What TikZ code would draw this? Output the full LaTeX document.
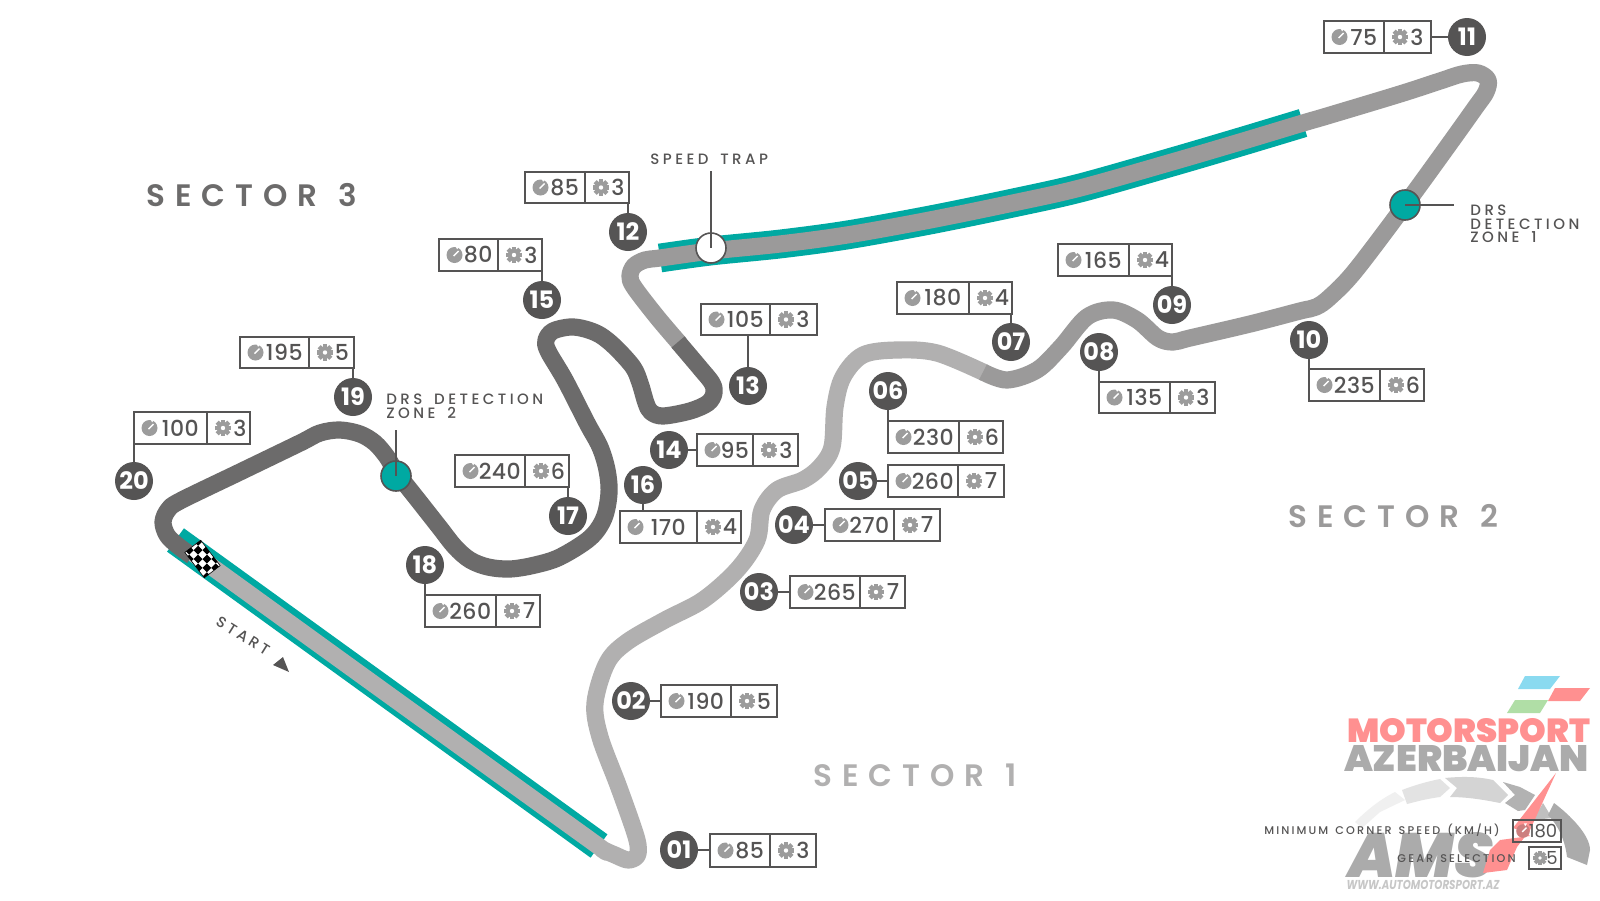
\documentclass[tikz,border=0pt]{standalone}
\usepackage{fontspec}
\usepackage{graphicx}
\setmainfont{Poppins}
\newfontfamily\numfont[LetterSpace=2]{Poppins Medium}
\newfontfamily\lblfont[LetterSpace=23,WordSpace=1.6]{Poppins Medium}
\newfontfamily\secfont[LetterSpace=32,WordSpace=1.2]{Poppins SemiBold}
\newfontfamily\legfont[LetterSpace=19,WordSpace=1.4]{Poppins Medium}
\newfontfamily\logofont{Poppins Black}
\definecolor{sone}{HTML}{B1B0B0}
\definecolor{stwo}{HTML}{9B9A9A}
\definecolor{sthree}{HTML}{6C6B6B}
\definecolor{teal1}{HTML}{00A9A2}
\definecolor{ink}{HTML}{555454}
\definecolor{icon}{HTML}{9C9C9C}
\definecolor{logored}{HTML}{FF9090}
\definecolor{logogrey}{HTML}{ABABAB}
\definecolor{flagblue}{HTML}{8ADAF0}
\definecolor{flaggreen}{HTML}{B0DEA6}
\tikzset{
  track/.style={line width=8.6pt,line cap=butt,line join=round},
  drs/.style={line width=14.4pt,line cap=butt,draw=teal1},
  cnum/.style={circle,fill=ink,text=white,minimum size=19pt,inner sep=0pt,outer sep=0pt,font=\fontsize{12}{12}\bfseries},
  cbox/.style={draw=ink,line width=0.65pt,fill=white,inner sep=0pt,outer sep=0pt},
  leader/.style={draw=ink,line width=0.65pt},
  val/.style={text=ink,inner sep=0pt,font=\numfont\fontsize{11}{12}\selectfont},
  lbl/.style={text=ink,inner sep=0pt,font=\lblfont\fontsize{7.5}{7}\selectfont},
  sect/.style={inner sep=0pt,font=\secfont\fontsize{15.5}{15}\selectfont},
  legend/.style={text=ink,inner sep=0pt,font=\legfont\fontsize{5.6}{6}\selectfont},
  marker/.style={circle,draw=ink,line width=0.8pt,minimum size=15pt,inner sep=0pt,outer sep=0pt},
  gaugeicon/.pic={
    \fill[pic actions] (0,0) circle (8);
    \fill[white] (1,-9) -- (4.8,-9) -- (2.6,-5.6) -- cycle;
    \draw[white,line width=.7pt] (-1,1) -- (4,-4);
  },
  gearicon/.pic={
    \foreach \a in {0,45,...,135}{\fill[pic actions,rotate=\a] (-2.2,-8.3) rectangle (2.2,8.3);}
    \fill[pic actions] (0,0) circle (6.2);
    \fill[white] (0,0) circle (2.2);
  }
}
\newcommand{\mkcorner}{%
  \pgfmathsetmacro{\bw}{(\xr-\xl)*0.5}%
  \pgfmathsetmacro{\bh}{(\yb-\yt)*0.5}%
  \pgfmathsetmacro{\bx}{(\xr+\xl)/2}%
  \pgfmathsetmacro{\by}{(\yt+\yb)/2}%
  \node[cnum] (c\id) at (\cx,\cy) {\id};
  \node[cbox,minimum width=\bw pt,minimum height=\bh pt] (b\id) at (\bx,\by) {};
  \draw[leader] (\xd,\yt) -- (\xd,\yb);
  \pgfmathsetmacro{\gx}{\xl+15.5}%
  \pgfmathsetmacro{\vx}{(\xl+23.5+\xd)/2-2}%
  \pgfmathsetmacro{\hx}{\xd+16}%
  \pgfmathsetmacro{\dx}{\xd+33}%
  \pic[fill=icon] at (\gx,\by) {gaugeicon};
  \node[val] (v\id) at (\vx,\by) {\spd};
  \pic[fill=icon] at (\hx,\by) {gearicon};
  \node[val] (g\id) at (\dx,\by) {\grd};
}
\begin{document}
\begin{tikzpicture}[x=0.5pt,y=-0.5pt]
\useasboundingbox (0,0) rectangle (1600,900);
\fill[white] (0,0) rectangle (1600,900);

% ---- logo
\fill[flagblue] (1525,676) -- (1560,676) -- (1550,689) -- (1518,689) -- cycle;
\fill[logored] (1555,688) -- (1590,688) -- (1580,701) -- (1548,701) -- cycle;
\fill[flaggreen] (1515,700) -- (1548,700) -- (1540,713) -- (1507,713) -- cycle;
\node[inner sep=0pt,text=logored,font=\logofont] (logoa) at (1468.5,731) {\resizebox{121.5pt}{12pt}{MOTORSPORT}};
\node[inner sep=0pt,text=logogrey,font=\logofont] (logob) at (1466.5,759) {\resizebox{122.5pt}{13pt}{AZERBAIJAN}};
\fill[black!6] (1355,822) .. controls (1372,805) and (1385,797) .. (1395,792) -- (1405,800) -- (1380,812) -- (1362,828) -- cycle;
\fill[black!11] (1402,790) .. controls (1420,783) and (1435,780) .. (1440,779) -- (1450,788) -- (1440,797) .. controls (1425,799) and (1415,802) .. (1407,804) -- cycle;
\fill[black!17] (1445,778) .. controls (1465,776) and (1480,777) .. (1493,780) -- (1508,795) -- (1500,803) .. controls (1480,799) and (1465,797) .. (1450,797) -- (1457,788) -- cycle;
\fill[black!30] (1503,782) -- (1520,787) -- (1535,795) -- (1525,810) -- (1518,811) -- (1505,803) -- (1515,795) -- cycle;
\fill[black!25] (1543,803) -- (1552,818) -- (1533,820) -- cycle;
\fill[logogrey] (1554,803) .. controls (1570,815) and (1590,835) .. (1590,850) -- (1587,865) -- (1567,857) .. controls (1565,840) and (1558,825) .. (1548,815) -- cycle;
\node[inner sep=0pt,text=logogrey,font=\logofont\itshape] (logoc) at (1421,855) {\resizebox{72.5pt}{22.5pt}{AMS}};
\fill[logored] (1556,773) -- (1513,828) -- (1525,832) -- (1530,836) -- (1500,840) -- (1490,850) -- (1483,873) -- (1507,870) -- (1517,847) -- (1530,830) -- cycle;
\node[inner sep=0pt,text=black!22,font=\bfseries\itshape] (logod) at (1423,885) {\resizebox{76.5pt}{4.6pt}{WWW.AUTOMOTORSPORT.AZ}};

% ---- track
\draw[drs] (175.5,540) -- (599,846);
\draw[drs] plot[smooth,tension=0.5] coordinates {(660,258) (711,251) (780,244) (847,235) (930,220) (1013,203) (1080,188) (1172,162) (1240,142) (1303,123)};
\draw[track,sone] plot[smooth,tension=0.55] coordinates {(190,551) (400,703) (590,840) (602,849) (615,855) (628,860) (637,856) (638,845) (633,827) (618,785) (600,737) (595,703) (607,663) (627,642) (665,620) (703,600) (737,570) (757,540) (762,510) (777,490) (803,480) (820,467) (832,447) (835,407) (843,377) (863,355) (897,350) (937,353) (985,373)};
\draw[track,stwo] plot[smooth,tension=0.55] coordinates {(983,372) (1007,380) (1037,370) (1061,347) (1087,317) (1113,310) (1137,320) (1158,338) (1173,342) (1190,338) (1250,324) (1300,311) (1316,307) (1330,297) (1355,271) (1405,205) (1445,150) (1475,108) (1486,92) (1488,80) (1478,73) (1462,74) (1440,81) (1400,94) (1327,116) (1303,123) (1240,142) (1172,162) (1080,188) (1013,203) (930,220) (847,235) (780,244) (711,251) (660,258) (645,260) (634,266) (630,276) (634,287) (657,317) (680,344)};
\draw[track,sthree] plot[smooth,tension=0.55] coordinates {(678,342) (700,368) (712,383) (714,393) (708,403) (690,411) (663,416) (651,412) (646,403) (640,383) (633,367) (615,347) (600,335) (585,329) (570,327) (553,331) (546,340) (548,351) (565,380) (587,423) (600,447) (607,470) (609,493) (604,518) (590,538) (560,557) (535,565) (510,569) (488,567) (470,560) (455,547) (440,528) (418,500) (396,472) (387,457) (375,443) (360,434) (340,430) (320,433) (300,443) (240,472) (180,501) (168,510) (163,522) (167,535) (177,545) (192,556)};
% flag
\begin{scope}[shift={(202.5,559)},rotate=37.5]
\fill[white] (-10,-16) rectangle (10,16);
\begin{scope}
\clip (-10,-16) rectangle (10,16);
\begin{scope}[rotate=7.5]
\foreach \i in {-4,...,4}{\foreach \j in {-4,...,4}{
  \pgfmathparse{int(mod(\i+\j+8,2))}
  \ifnum\pgfmathresult=0 \fill[black] (\j*6.2,\i*6.2) rectangle +(6.2,6.2);\fi
}}
\end{scope}
\end{scope}
\draw[black,line width=.3pt] (-10,-16) rectangle (10,16);
\end{scope}

% ---- corners: number/circle x,y/box left,top,right,bottom/divider/speed/gear/circle anchor/box anchor
\foreach \id/\cx/\cy/\xl/\yt/\xr/\yb/\xd/\spd/\grd/\ca/\ba in {
  01/679/850/710/834/816/867/770/85/3/east/west,
  02/631/701/661/685/777/717/731/190/5/east/west,
  03/759/592/790/576/905/608/860/265/7/east/west,
  04/794/525/825/509/940/541/894/270/7/east/west,
  05/858/481/888/465/1004/497/958/260/7/east/west,
  14/669/450/697/434/798/466/753/95/3/east/west}{\mkcorner \draw[leader] (c\id.\ca) -- (c\id.\ca -| b\id.\ba);}
\foreach \id/\cx/\cy/\xl/\yt/\xr/\yb/\xd/\spd/\grd/\ca/\ba in {
  11/1467/37/1324/21/1431/53/1384/75/3/west/east}{\mkcorner \draw[leader] (c\id.\ca) -- (c\id.\ca -| b\id.\ba);}
\foreach \id/\cx/\cy/\xl/\yt/\xr/\yb/\xd/\spd/\grd/\ca/\ba in {
  06/888/391/888/421/1003/453/959/230/6/south/north,
  08/1099/352/1099/382/1215/413/1170/135/3/south/north,
  10/1309/340/1309/369/1424/401/1380/235/6/south/north,
  18/425/565/425/595/540/627/496/260/7/south/north,
  16/643/485/620/511/741/543/697/170/4/south/north,
  07/1011/342/897/282/1012/314/969/180/4/north/south,
  09/1172/305/1058/244/1172/276/1129/165/4/north/south,
  12/628/232/525/172/629/203/585/85/3/north/south,
  13/748/386/701/304/817/335/770/105/3/north/south,
  15/542/300/439/239/542/271/498/80/3/north/south,
  17/568/516/455/455/569/487/525/240/6/north/south,
  19/353/397/240/337/354/368/309/195/5/north/south,
  20/134/481/134/412/250/444/207/100/3/north/south}{\mkcorner \draw[leader] (c\id.\ca) -- (c\id.\ca |- b\id.\ba);}

% ---- markers
\node[marker,fill=white] (trap) at (711,248) {};
\coordinate (traptop) at (711,171);
\draw[leader] (traptop) -- (trap.center);
\node[lbl,anchor=west] (traplbl) at (650,159) {SPEED TRAP};
\node[marker,fill=teal1] (drsa) at (1405,205) {};
\coordinate (drsaend) at (1454,205);
\draw[leader] (drsa.center) -- (drsaend);
\node[lbl,anchor=west] (drsat1) at (1470,210) {DRS};
\node[lbl,anchor=west] (drsat2) at (1470,224) {DETECTION};
\node[lbl,anchor=west] (drsat3) at (1470,237) {ZONE 1};
\node[marker,fill=teal1] (drsb) at (396,476) {};
\coordinate (drsbtop) at (396,430);
\draw[leader] (drsbtop) -- (drsb.center);
\node[lbl,anchor=west] (drsb1) at (386,399) {DRS DETECTION};
\node[lbl,anchor=west] (drsb2) at (386,413) {ZONE 2};
\node[lbl,rotate=-32] (startlbl) at (243,636) {START};
\fill[ink] (273,665) -- (283,657) -- (289,672) -- cycle;

% ---- sectors
\node[sect,text=sthree,anchor=west] (secc) at (146,195) {SECTOR 3};
\node[sect,text=stwo,anchor=west] (secb) at (1288,516) {SECTOR 2};
\node[sect,text=sone,anchor=west] (seca) at (813,775) {SECTOR 1};

% ---- legend
\node[legend,anchor=east] (lega) at (1500,830) {MINIMUM CORNER SPEED (KM/H)};
\node[legend,anchor=east] (legb) at (1516,859) {GEAR SELECTION};
\node[draw=ink,line width=.65pt,minimum width=24pt,minimum height=11pt,inner sep=0pt] (boxa) at (1537,831) {};
\node[draw=ink,line width=.65pt,minimum width=16pt,minimum height=11pt,inner sep=0pt] (boxb) at (1545,858) {};
\pic[fill=logored!70!ink,scale=.85] at (1523,831) {gaugeicon};
\pic[fill=icon,scale=.85] at (1540,858) {gearicon};
\node[val,font=\fontsize{9}{10}\selectfont] (vala) at (1543,831) {180};
\node[val,font=\fontsize{9}{10}\selectfont] (valb) at (1552,858) {5};
\end{tikzpicture}
\end{document}
